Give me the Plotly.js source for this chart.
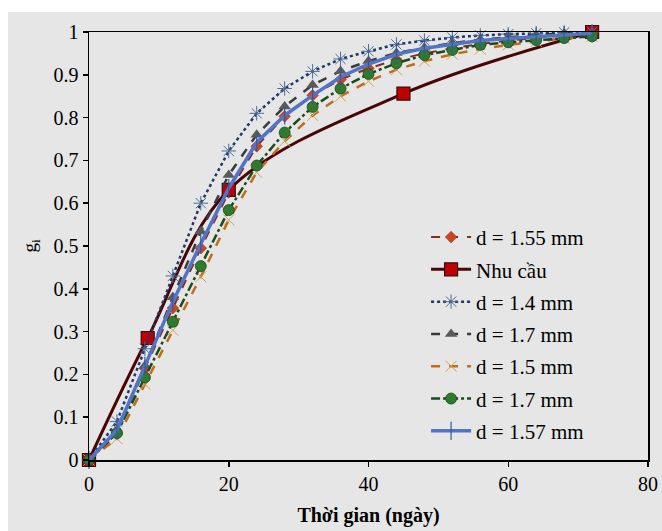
<!DOCTYPE html>
<html>
<head>
<meta charset="utf-8">
<script src="https://cdn.plot.ly/plotly-3.0.1.min.js"></script>
<style>
html,body{margin:0;padding:0;background:#ffffff;width:662px;height:531px;overflow:hidden;}
#chart{position:absolute;left:8px;top:12px;width:654px;height:519px;}
</style>
</head>
<body>
<div id="chart"></div>
<script>
// Time axis (days) for the measured series
const days = [0,4,8,12,16,20,24,28,32,36,40,44,48,52,56,60,64,68,72];
// Demand curve points
const demandDays = [0, 8.4, 20, 45, 72];
const demandVals = [0, 0.285, 0.631, 0.856, 1.0];

const d155 = [0,0.06,0.214,0.355,0.495,0.625,0.733,0.803,0.852,0.889,0.915,0.935,0.950,0.962,0.972,0.980,0.986,0.992,1.0];
const d14  = [0,0.09,0.26,0.43,0.600,0.722,0.810,0.868,0.908,0.937,0.955,0.971,0.980,0.987,0.992,0.995,0.997,0.999,1.0];
const d17a = [0,0.07,0.22,0.38,0.534,0.666,0.760,0.826,0.876,0.909,0.932,0.951,0.963,0.974,0.982,0.988,0.993,0.997,1.0];
const d15  = [0,0.05,0.177,0.303,0.428,0.561,0.672,0.745,0.805,0.850,0.885,0.912,0.932,0.948,0.960,0.970,0.978,0.985,0.99];
const d17b = [0,0.063,0.193,0.323,0.453,0.584,0.688,0.765,0.825,0.868,0.902,0.927,0.946,0.958,0.970,0.976,0.981,0.986,0.99];
const d157 = [0,0.07,0.22,0.37,0.505,0.635,0.742,0.805,0.852,0.895,0.925,0.948,0.962,0.972,0.980,0.985,0.989,0.993,0.997];

const names = ['d = 1.55 mm','Nhu cầu','d = 1.4 mm','d = 1.7 mm','d = 1.5 mm','d = 1.7 mm','d = 1.57 mm'];
const xTicks = [0,20,40,60,80];

const serif = 'Liberation Serif, Times New Roman, serif';

const traces = [
  {x: days, y: d155, name: names[0], mode:'lines+markers', legendgroup:'g1',
   line:{color:'#8b2a1a', width:2, dash:'dash'},
   marker:{symbol:'diamond', size:9, color:'#d0431f', line:{color:'#8b2a1a', width:0.5}}},
  {x: demandDays, y: demandVals, name: names[1], mode:'lines+markers', legendgroup:'g2',
   line:{color:'#4a0606', width:3, shape:'spline', smoothing:1},
   marker:{symbol:'square', size:13, color:'#c00000', line:{color:'#3a0a0a', width:1.2}}},
  {x: days, y: d14, name: names[2], mode:'lines+markers', legendgroup:'g3',
   line:{color:'#1f3864', width:2.5, dash:'dot'},
   marker:{symbol:'asterisk-open', size:12, color:'#4a6a96', line:{color:'#4a6a96', width:1}}},
  {x: days, y: d17a, name: names[3], mode:'lines+markers', legendgroup:'g4',
   line:{color:'#3a3a3a', width:2.5, dash:'dash'},
   marker:{symbol:'triangle-up', size:11, color:'#5a5a5a'}},
  {x: days, y: d15, name: names[4], mode:'lines+markers', legendgroup:'g5',
   line:{color:'#c46a1a', width:2.5, dash:'dash'},
   marker:{symbol:'x-thin-open', size:11, color:'#d3a05a', line:{color:'#d3a05a', width:1}}},
  {x: days, y: d17b, name: names[5], mode:'lines+markers', legendgroup:'g6',
   line:{color:'#1b4a1b', width:2.5, dash:'dashdot'},
   marker:{symbol:'circle', size:11, color:'#2e7a2e', line:{color:'#1b4a1b', width:0.8}}},
  {x: days, y: d157, name: names[6], mode:'lines+markers', legendgroup:'g7',
   line:{color:'#4f74c8', width:3.5},
   marker:{symbol:'line-ns-open', size:13, color:'#3656a0', line:{color:'#3656a0', width:1.2}}}
];
traces.forEach(t => { t.cliponaxis = false; });

const layout = {
  width: 654, height: 519,
  margin: {l:81, r:14, t:20, b:71},
  paper_bgcolor: '#e6e6e6',
  plot_bgcolor: '#e6e6e6',
  font: {family: serif, size: 20, color:'#000'},
  showlegend: true,
  legend: {
    x: 0.603, y: 0.568, xanchor:'left', yanchor:'top',
    bgcolor:'rgba(0,0,0,0)', borderwidth:0,
    font:{family: serif, size:21, color:'#000'},
    traceorder:'grouped', tracegroupgap: 2,
    itemwidth: 40
  },
  xaxis: {
    range:[0,80], tickvals:xTicks, ticktext:xTicks.map(String),
    showgrid:false, zeroline:false,
    showline:true, linecolor:'#000', linewidth:1.5, mirror:true,
    ticks:'outside', ticklen:5, tickcolor:'#000', tickwidth:1.5,
    tickfont:{family:serif, size:20},
    title:{text:'<b>Thời gian (ngày)</b>', font:{family:serif, size:20}, standoff:14}
  },
  yaxis: {
    range:[0,1], dtick:0.1, tick0:0,
    showgrid:false, zeroline:false,
    showline:true, linecolor:'#000', linewidth:1.5, mirror:true,
    ticks:'outside', ticklen:5, tickcolor:'#000', tickwidth:1.5,
    tickfont:{family:serif, size:20},
    title:{text:'g<sub>i</sub>', font:{family:serif, size:19}, standoff:12}
  }
};

Plotly.newPlot('chart', traces, layout, {displayModeBar:false, staticPlot:true});
</script>
</body>
</html>
